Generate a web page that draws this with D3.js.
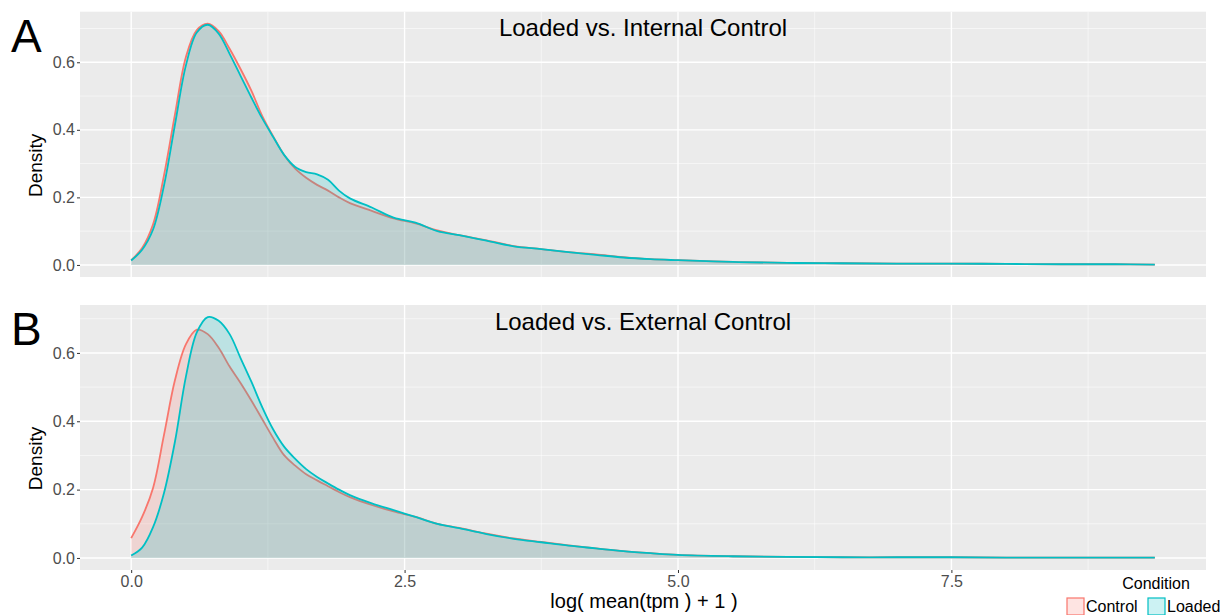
<!DOCTYPE html>
<html>
<head>
<meta charset="utf-8">
<script src="https://cdn.jsdelivr.net/npm/d3@7"></script>
<style>
  body { margin: 0; background: #fff; }
  text { font-family: "Liberation Sans", Arial, sans-serif; }
</style>
</head>
<body>
<svg width="1227" height="615"></svg>
<script>
// x grid shared by all density curves: log( mean(tpm) + 1 )
const xGrid = [0, 0.1, 0.2, 0.3, 0.4, 0.5, 0.6, 0.7, 0.8, 0.9, 1.0, 1.1, 1.2, 1.3, 1.4, 1.5, 1.6, 1.7, 1.8, 1.9, 2.0,
  2.2, 2.4, 2.6, 2.8, 3.0, 3.25, 3.5, 3.75, 4.0, 4.25, 4.5, 4.75, 5.0, 5.5, 6.0, 6.5, 7.0, 7.5, 8.0, 8.5, 9.0, 9.36];

// panel A: Loaded vs. Internal Control
const internalControl = [0.014, 0.05, 0.12, 0.265, 0.445, 0.615, 0.695, 0.714, 0.692, 0.64, 0.58, 0.515, 0.44, 0.38, 0.325, 0.285, 0.258, 0.237, 0.22, 0.2, 0.183,
  0.16, 0.138, 0.123, 0.102, 0.088, 0.073, 0.056, 0.047, 0.038, 0.031, 0.023, 0.017, 0.014, 0.009, 0.006, 0.005, 0.004, 0.004, 0.003, 0.002, 0.002, 0.001];
const internalLoaded = [0.013, 0.045, 0.105, 0.235, 0.415, 0.59, 0.688, 0.711, 0.685, 0.625, 0.56, 0.495, 0.433, 0.378, 0.325, 0.29, 0.275, 0.268, 0.252, 0.22, 0.197,
  0.17, 0.14, 0.125, 0.1, 0.088, 0.072, 0.055, 0.047, 0.038, 0.03, 0.022, 0.017, 0.014, 0.009, 0.006, 0.005, 0.004, 0.004, 0.003, 0.002, 0.002, 0.001];

// panel B: Loaded vs. External Control
const externalControl = [0.058, 0.12, 0.205, 0.36, 0.52, 0.625, 0.668, 0.655, 0.615, 0.56, 0.512, 0.46, 0.405, 0.35, 0.3, 0.27, 0.245, 0.227, 0.21, 0.193, 0.178,
  0.155, 0.136, 0.12, 0.1, 0.088, 0.071, 0.057, 0.047, 0.037, 0.028, 0.02, 0.014, 0.009, 0.005, 0.003, 0.002, 0.002, 0.002, 0.001, 0.001, 0.001, 0.001];
const externalLoaded = [0.007, 0.03, 0.09, 0.19, 0.34, 0.53, 0.66, 0.705, 0.694, 0.655, 0.585, 0.515, 0.44, 0.375, 0.325, 0.29, 0.26, 0.237, 0.218, 0.2, 0.184,
  0.16, 0.14, 0.12, 0.1, 0.087, 0.07, 0.056, 0.046, 0.036, 0.028, 0.02, 0.014, 0.009, 0.005, 0.003, 0.002, 0.002, 0.002, 0.001, 0.001, 0.001, 0.001];

const xTicks = [0, 2.5, 5, 7.5];
const xMinor = [1.25, 3.75, 6.25, 8.75];
const yTicks = [0, 0.2, 0.4, 0.6];
const yMinor = [0.1, 0.3, 0.5, 0.7];
const panelLetters = ["A", "B"];
const panelTitles = ["Loaded vs. Internal Control", "Loaded vs. External Control"];
const conditions = ["Control", "Loaded"];
const colors = ["#F8766D", "#00BFC4"];

const svg = d3.select("svg");
const left = 80, right = 1206;
const panels = [
  { top: 11.7, bottom: 277, series: [internalControl, internalLoaded] },
  { top: 305, bottom: 570, series: [externalControl, externalLoaded] }
];

const xMax = d3.max(xGrid);
const xPad = xMax * 0.05;
const xscale = d3.scaleLinear().domain([-xPad, xMax + xPad]).range([left, right]);

panels.forEach((p, i) => {
  const dMax = d3.max(p.series, s => d3.max(s));
  const yscale = d3.scaleLinear().domain([-dMax * 0.05, dMax * 1.05]).range([p.bottom, p.top]);
  const g = svg.append("g");

  g.append("rect").attr("x", left).attr("y", p.top).attr("width", right - left).attr("height", p.bottom - p.top).attr("fill", "#EBEBEB");

  // minor then major grid
  g.selectAll(".ymin").data(yMinor.filter(v => yscale(v) > p.top)).enter().append("line")
    .attr("x1", left).attr("x2", right).attr("y1", d => yscale(d)).attr("y2", d => yscale(d))
    .attr("stroke", "#fff").attr("stroke-width", 0.7).attr("opacity", 0.8);
  g.selectAll(".xmin").data(xMinor).enter().append("line")
    .attr("y1", p.top).attr("y2", p.bottom).attr("x1", d => xscale(d)).attr("x2", d => xscale(d))
    .attr("stroke", "#fff").attr("stroke-width", 0.7).attr("opacity", 0.8);
  g.selectAll(".ymaj").data(yTicks).enter().append("line")
    .attr("x1", left).attr("x2", right).attr("y1", d => yscale(d)).attr("y2", d => yscale(d))
    .attr("stroke", "#fff").attr("stroke-width", 1.4);
  g.selectAll(".xmaj").data(xTicks).enter().append("line")
    .attr("y1", p.top).attr("y2", p.bottom).attr("x1", d => xscale(d)).attr("x2", d => xscale(d))
    .attr("stroke", "#fff").attr("stroke-width", 1.4);

  const curve = d3.curveCatmullRom.alpha(0.5);
  const area = d3.area().x((d, j) => xscale(xGrid[j])).y0(yscale(0)).y1(d => yscale(d)).curve(curve);
  const line = d3.line().x((d, j) => xscale(xGrid[j])).y(d => yscale(d)).curve(curve);

  p.series.forEach((s, k) => {
    g.append("path").datum(s).attr("d", area).attr("fill", colors[k]).attr("fill-opacity", 0.2);
    g.append("path").datum(s).attr("d", line).attr("fill", "none").attr("stroke", colors[k]).attr("stroke-width", 1.8);
  });

  // y axis
  const yaxis = d3.axisLeft(yscale).tickValues(yTicks).tickFormat(d3.format(".1f")).tickSize(3).tickPadding(2);
  const ya = g.append("g").attr("transform", "translate(" + left + ",0)").call(yaxis);
  ya.select(".domain").remove();
  ya.selectAll("line").attr("stroke", "#333");
  ya.selectAll("text").attr("fill", "#4d4d4d").style("font-size", "16px").style("font-family", "Liberation Sans, Arial, sans-serif");

  // x axis only under the bottom panel
  if (i === 1) {
    const xaxis = d3.axisBottom(xscale).tickValues(xTicks).tickFormat(d3.format(".1f")).tickSize(3).tickPadding(3);
    const xa = g.append("g").attr("transform", "translate(0," + p.bottom + ")").call(xaxis);
    xa.select(".domain").remove();
    xa.selectAll("line").attr("stroke", "#333");
    xa.selectAll("text").attr("fill", "#4d4d4d").style("font-size", "16px").style("font-family", "Liberation Sans, Arial, sans-serif");
  }

  g.append("text").attr("transform", "translate(42," + ((p.top + p.bottom) / 2 + 21) + ") rotate(-90)")
    .attr("text-anchor", "middle").style("font-size", "19px").text("Density");

  g.append("text").attr("x", 643).attr("y", p.top + 24.5).attr("text-anchor", "middle")
    .style("font-size", "24px").text(panelTitles[i]);

  g.append("text").attr("x", 11).attr("y", p.top + 40).style("font-size", "46px").text(panelLetters[i]);
});

svg.append("text").attr("x", 644).attr("y", 608).attr("text-anchor", "middle")
  .style("font-size", "20px").text("log( mean(tpm ) + 1 )");

// legend
svg.append("text").attr("x", 1156).attr("y", 589).attr("text-anchor", "middle").style("font-size", "16px").text("Condition");
const legendX = [1067, 1148];
conditions.forEach((c, k) => {
  svg.append("rect").attr("x", legendX[k]).attr("y", 598).attr("width", 17).attr("height", 17)
    .attr("fill", colors[k]).attr("fill-opacity", 0.2).attr("stroke", colors[k]).attr("stroke-width", 1.2);
  svg.append("text").attr("x", legendX[k] + 19).attr("y", 612).style("font-size", "16px").text(c);
});
</script>
</body>
</html>
